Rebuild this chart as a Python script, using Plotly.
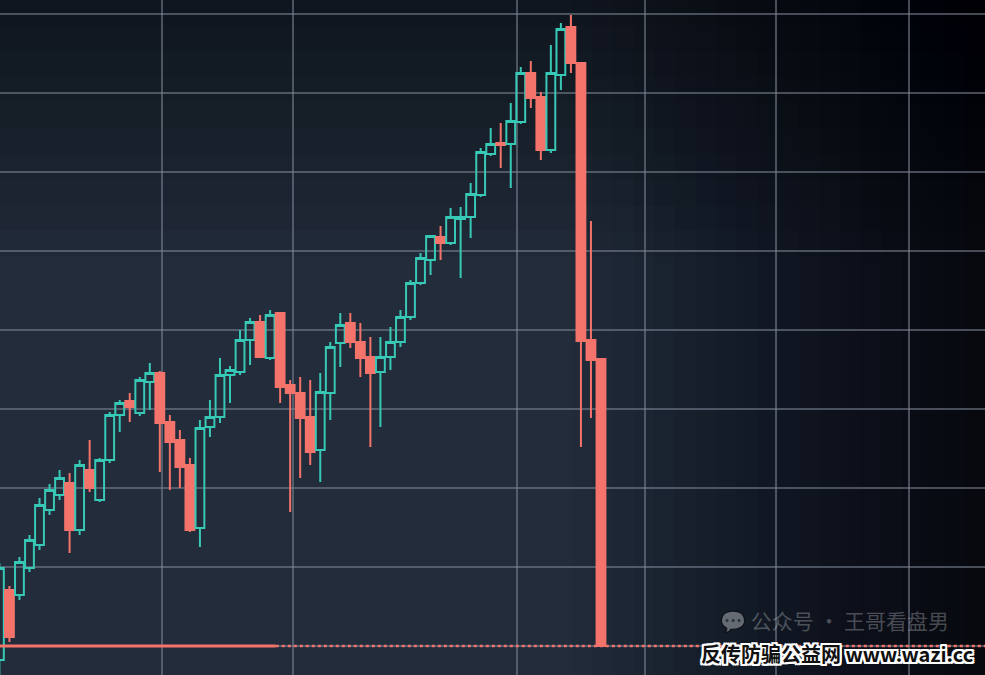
import plotly.graph_objects as go

# ---- data (price units; candle index along x) ----
idx = list(range(61))
opens = [982.3, 1070.9, 1064.6, 1098.7, 1127.8, 1172.2, 1191.1, 1206.3, 1146.8, 1222.8,
         1184.8, 1235.4, 1292.4, 1310.1, 1294.9, 1334.2, 1345.6, 1283.5, 1260.8, 1229.1,
         1149.4, 1277.2, 1289.9, 1343.0, 1346.8, 1387.3, 1410.1, 1364.6, 1421.5, 1330.4,
         1320.3, 1289.9, 1248.1, 1320.3, 1383.5, 1408.9, 1384.8, 1365.8, 1346.8, 1365.8,
         1384.8, 1416.5, 1459.5, 1488.6, 1517.7, 1510.1, 1540.5, 1543.0, 1570.9, 1622.8,
         1636.7, 1635.4, 1663.3, 1725.3, 1694.9, 1627.8, 1722.8, 1783.5, 1738.0, 1387.3,
         1363.3]
highs = [1105.1, 1075.9, 1112.7, 1140.5, 1187.3, 1205.1, 1222.8, 1219.0, 1235.4, 1260.8,
         1238.0, 1296.2, 1311.4, 1320.3, 1340.5, 1358.2, 1348.1, 1292.4, 1273.4, 1238.0,
         1286.1, 1311.4, 1364.6, 1354.4, 1400.0, 1415.2, 1419.0, 1425.3, 1422.8, 1336.7,
         1340.5, 1336.7, 1345.6, 1384.8, 1421.5, 1421.5, 1408.9, 1391.1, 1391.1, 1403.8,
         1425.3, 1463.3, 1497.5, 1520.3, 1531.6, 1554.4, 1555.7, 1586.1, 1630.4, 1655.7,
         1662.0, 1687.3, 1732.9, 1740.5, 1701.3, 1760.8, 1788.6, 1798.7, 1738.0, 1538.0,
         1363.3]
lows = [957.0, 1005.1, 1058.2, 1093.7, 1121.5, 1165.8, 1184.8, 1117.7, 1140.5, 1194.9,
        1182.3, 1231.6, 1270.9, 1283.5, 1291.1, 1298.7, 1220.3, 1197.5, 1200.0, 1144.3,
        1125.3, 1264.6, 1282.3, 1307.6, 1343.0, 1355.7, 1364.6, 1362.0, 1307.6, 1169.6,
        1212.7, 1229.1, 1207.6, 1286.1, 1353.2, 1377.2, 1340.5, 1251.9, 1277.2, 1349.4,
        1378.5, 1412.7, 1457.0, 1469.6, 1488.6, 1507.6, 1465.8, 1516.5, 1568.4, 1620.3,
        1605.1, 1579.7, 1660.8, 1681.0, 1615.2, 1624.1, 1703.8, 1725.3, 1251.9, 1288.6,
        1000.0]
closes = [1098.7, 1011.4, 1106.3, 1134.2, 1178.5, 1197.5, 1212.7, 1146.8, 1229.1, 1200.0,
          1235.4, 1292.4, 1307.6, 1302.5, 1336.7, 1345.6, 1282.3, 1258.2, 1226.6, 1146.8,
          1275.9, 1289.9, 1343.0, 1349.4, 1387.3, 1410.1, 1365.8, 1419.0, 1327.8, 1320.3,
          1288.6, 1245.6, 1321.5, 1378.5, 1406.3, 1384.8, 1364.6, 1345.6, 1365.8, 1384.8,
          1416.5, 1459.5, 1491.1, 1519.0, 1510.1, 1543.0, 1543.0, 1572.2, 1625.3, 1635.4,
          1634.2, 1664.6, 1725.3, 1693.7, 1627.8, 1725.3, 1781.0, 1738.0, 1386.1, 1362.0,
          1000.0]
price_levels = [1000, 1100, 1200, 1300, 1400, 1500, 1600, 1700, 1800]
time_grid = [16.2, 29.3, 51.6, 64.4, 77.5, 90.7]

TEAL = "#38c8b6"
RED = "#f4736b"
GRID = "rgba(125,135,150,0.55)"

fig = go.Figure()

fig.add_trace(go.Candlestick(
    x=idx, open=opens, high=highs, low=lows, close=closes,
    increasing=dict(line=dict(color=TEAL, width=2), fillcolor="rgba(0,0,0,0)"),
    decreasing=dict(line=dict(color=RED, width=2), fillcolor=RED),
    whiskerwidth=0, showlegend=False, hoverinfo="skip",
))

shapes = []
# background darkening toward the right and top (decoration)
n = 20
for i in range(n):
    x0 = 0.58 + i * 0.42 / n
    shapes.append(dict(type="rect", xref="paper", yref="paper", x0=x0, x1=1.0, y0=0, y1=1,
                       fillcolor="black", opacity=0.03 + 0.05 * i / n,
                       line=dict(width=0), layer="below"))
for i in range(10):
    y0 = 0.62 + i * 0.38 / 10
    shapes.append(dict(type="rect", xref="paper", yref="paper", x0=0, x1=1.0, y0=y0, y1=1,
                       fillcolor="black", opacity=0.05, line=dict(width=0), layer="below"))

# last price line
last = closes[-1]
shapes.append(dict(type="line", xref="paper", yref="y", x0=0, x1=0.28, y0=last, y1=last,
                   line=dict(color=RED, width=3), layer="above"))
shapes.append(dict(type="line", xref="paper", yref="y", x0=0.28, x1=1, y0=last, y1=last,
                   line=dict(color=RED, width=2.5, dash="dot"), layer="above"))

fig.update_layout(
    width=985, height=675,
    margin=dict(l=0, r=0, t=0, b=0),
    paper_bgcolor="#1f2936",
    plot_bgcolor="#222c3a",
    shapes=shapes,
    boxgap=0.12, boxgroupgap=0,
    xaxis=dict(range=[0.06, 98.3], showticklabels=False, tickvals=time_grid,
               showgrid=True, gridcolor=GRID, gridwidth=2, zeroline=False,
               rangeslider=dict(visible=False), fixedrange=True),
    yaxis=dict(range=[963.3, 1817.7], showticklabels=False, tickvals=price_levels,
               showgrid=True, gridcolor=GRID, gridwidth=2, zeroline=False, fixedrange=True),
    annotations=[
        dict(text="💬 公众号 · 王哥看盘男", xref="paper", yref="paper", x=0.965, y=0.082,
             xanchor="right", yanchor="middle", showarrow=False,
             font=dict(family="Noto Sans CJK SC", size=21, color="rgba(190,195,200,0.35)")),
        dict(text="<b>反传防骗公益网 www.wazi.cc</b>", xref="paper", yref="paper", x=0.99, y=0.032,
             xanchor="right", yanchor="middle", showarrow=False,
             font=dict(family="Noto Sans CJK SC", size=20, color="#111111",
                       shadow="2px 0 0 #fff, -2px 0 0 #fff, 0 2px 0 #fff, 0 -2px 0 #fff, 2px 2px 0 #fff, -2px -2px 0 #fff, 2px -2px 0 #fff, -2px 2px 0 #fff")),
    ],
)

fig.write_html("out.html", config={"displayModeBar": False, "staticPlot": True},
               post_script="document.body.style.margin='0';document.body.style.background='#1f2936';")
